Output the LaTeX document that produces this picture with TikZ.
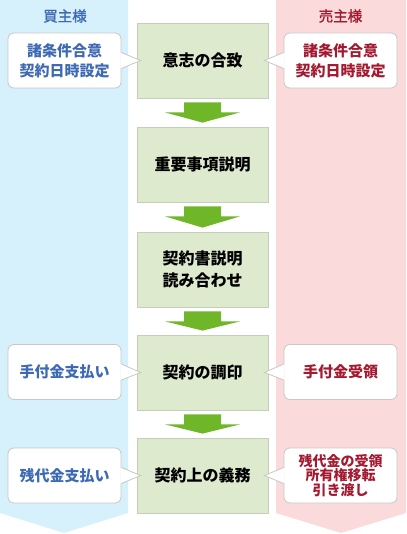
\documentclass[tikz,border=0pt]{standalone}
\usepackage{fontspec}
\setmainfont{Noto Sans CJK JP}
\newfontfamily\medfont[FakeBold=1.2]{Noto Sans CJK JP}
\usetikzlibrary{calc}
\definecolor{bandblue}{RGB}{214,240,252}
\definecolor{bandpink}{RGB}{251,218,219}
\definecolor{boxfill}{RGB}{221,234,205}
\definecolor{boxline}{RGB}{196,206,186}
\definecolor{arrowgreen}{RGB}{111,183,41}
\definecolor{buyertext}{RGB}{62,106,180}
\definecolor{sellertext}{RGB}{163,26,48}
\definecolor{calloutline}{RGB}{200,200,200}
\newcommand\flowarrow[2]{%
  \fill[arrowgreen] ($(#1.south)+(-18.5,4)$) -- ++(37,0) -- ++(0,10) -- ++(19,0)
    -- ($(#2.north)+(0,-4)$) -- ($(#1.south)+(-37.5,14)$) -- ++(19,0) -- cycle;}
\newcommand\leftpointer[2]{%
  \fill[white] ($(#1.east)+(-1,-8)$) -- ($(#2.west)+(4,0)$) -- ($(#1.east)+(-1,8)$) -- cycle;
  \draw[calloutline,line width=0.8pt] ($(#1.east)+(0,-8)$) -- ($(#2.west)+(4,0)$) -- ($(#1.east)+(0,8)$);}
\newcommand\rightpointer[2]{%
  \fill[white] ($(#1.west)+(1,-8)$) -- ($(#2.east)+(-4,0)$) -- ($(#1.west)+(1,8)$) -- cycle;
  \draw[calloutline,line width=0.8pt] ($(#1.west)+(0,-8)$) -- ($(#2.east)+(-4,0)$) -- ($(#1.west)+(0,8)$);}
\begin{document}
\begin{tikzpicture}[x=1pt,y=-1pt,
  stepbox/.style={draw=boxline,fill=boxfill,line width=0.8pt,minimum width=131pt,minimum height=75pt,
    inner sep=0pt,align=center,font=\fontsize{16}{22}\selectfont\bfseries,text=black},
  callout/.style={draw=calloutline,fill=white,line width=0.8pt,rounded corners=6pt,minimum width=113pt,
    minimum height=55pt,inner sep=0pt,align=center},
  buyer/.style={callout,text=buyertext,font=\fontsize{15}{20}\selectfont\bfseries},
  seller/.style={callout,text=sellertext,font=\fontsize{15}{20}\selectfont\bfseries},
  sellersmall/.style={callout,text=sellertext,font=\fontsize{14}{14.5}\selectfont\bfseries},
  title/.style={font=\fontsize{14.5}{16}\selectfont\medfont,inner sep=0pt}]
\useasboundingbox (0,0) rectangle (406,534);
% bands
\fill[bandblue] (0,0) -- (128,0) -- (128,513) -- (64,533) -- (0,513) -- cycle;
\fill[bandpink] (276,0) -- (406,0) -- (406,513) -- (341,533) -- (276,513) -- cycle;
\node[title,text=buyertext] (tb) at (65,16) {買主様};
\node[title,text=sellertext] (ts) at (340.5,16) {売主様};
% steps
\node[stepbox] (s1) at (202.5,60.5) {意志の合致};
\node[stepbox] (s2) at (202.5,164.5) {重要事項説明};
\node[stepbox] (s3) at (202.5,269.5) {契約書説明\\読み合わせ};
\node[stepbox] (s4) at (202.5,372.5) {契約の調印};
\node[stepbox] (s5) at (202.5,475.5) {契約上の義務};
\flowarrow{s1}{s2}
\flowarrow{s2}{s3}
\flowarrow{s3}{s4}
\flowarrow{s4}{s5}
% callouts
\node[buyer] (b1) at (64.5,60.5) {諸条件合意\\契約日時設定};
\node[buyer] (b4) at (64.5,372) {手付金支払い};
\node[buyer] (b5) at (64.5,475.5) {残代金支払い};
\node[seller] (r1) at (340.5,60.5) {諸条件合意\\契約日時設定};
\node[seller] (r4) at (340.5,372) {手付金受領};
\node[sellersmall] (r5) at (340.5,475.5) {残代金の受領\\所有権移転\\引き渡し};
\leftpointer{b1}{s1}
\leftpointer{b4}{s4}
\leftpointer{b5}{s5}
\rightpointer{r1}{s1}
\rightpointer{r4}{s4}
\rightpointer{r5}{s5}
\end{tikzpicture}
\end{document}
